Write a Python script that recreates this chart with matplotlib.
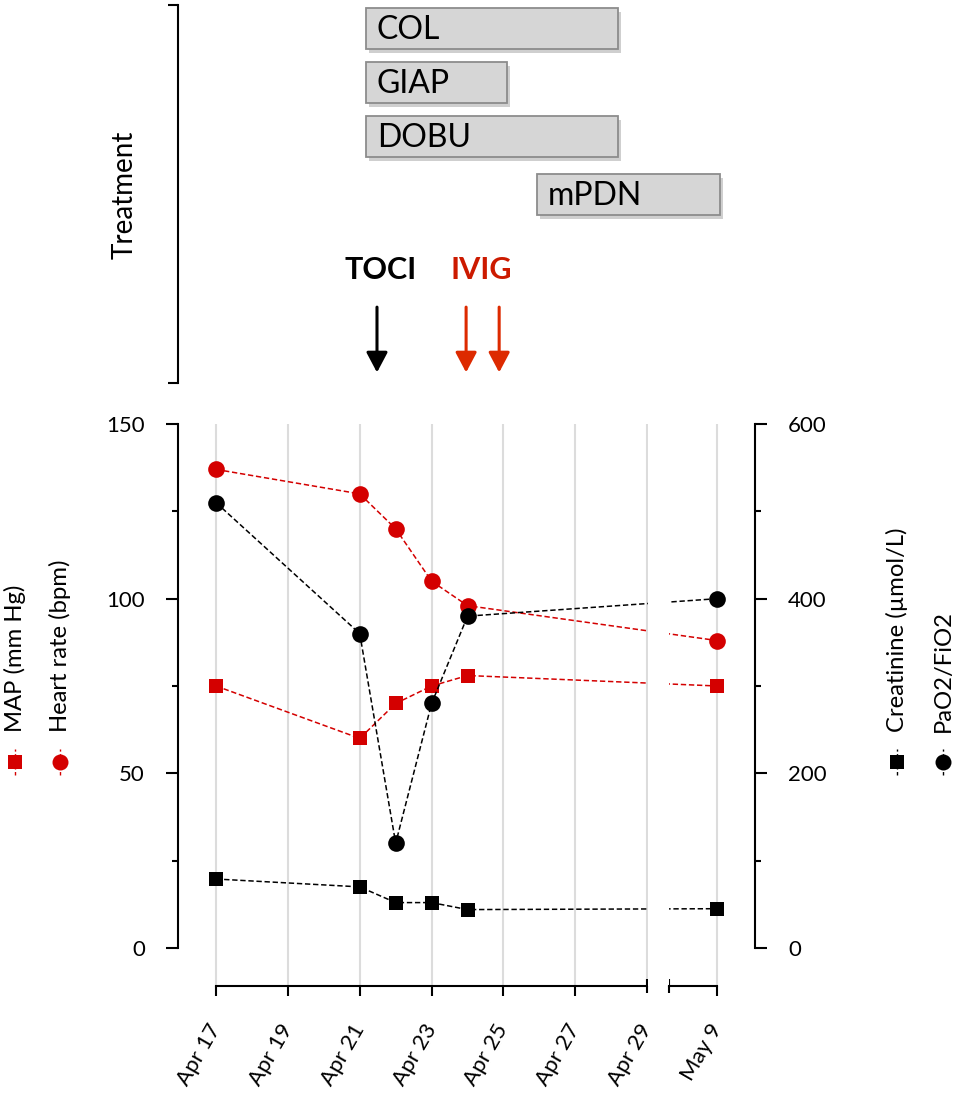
import matplotlib
matplotlib.use("Agg")
import matplotlib.pyplot as plt
from matplotlib.lines import Line2D
import matplotlib.patheffects as pe
from datetime import date

plt.rcParams['font.family'] = ['Lato', 'DejaVu Sans']

# ---------------- data ----------------
dates = ['2020-04-17', '2020-04-21', '2020-04-22', '2020-04-23', '2020-04-24', '2020-05-09']
heart_rate = [137, 130, 120, 105, 98, 88]
map_mmhg = [75, 60, 70, 75, 78, 75]
pao2_fio2 = [510, 360, 120, 280, 380, 400]
creatinine = [79, 70, 52, 52, 44, 45]

tick_dates = ['2020-04-17', '2020-04-19', '2020-04-21', '2020-04-23', '2020-04-25',
              '2020-04-27', '2020-04-29', '2020-05-09']
tick_labels = ['Apr 17', 'Apr 19', 'Apr 21', 'Apr 23', 'Apr 25', 'Apr 27', 'Apr 29', 'May 9']

treatments = ['COL', 'GIAP', 'DOBU', 'mPDN']
treat_start = [4.18, 4.18, 4.18, 8.94]   # days after Apr 17 (axis position)
treat_end = [11.19, 8.10, 11.19, 14.03]
treat_row = [0, 1, 2, 3.08]

toci_days = [4.48]
ivig_days = [6.96, 7.88]

# ---------------- axis mapping (broken date axis) ----------------
D0 = date(2020, 4, 17)
BREAK_END = 12          # Apr 29
GAP_START, GAP_END = 12.0, 12.62
MAY9_POS = 13.95


def pos(d):
    dd = date.fromisoformat(d)
    n = (dd - D0).days
    if n <= BREAK_END:
        return float(n)
    return MAY9_POS - (date(2020, 5, 9) - dd).days


xs = [pos(d) for d in dates]
xt = [pos(d) for d in tick_dates]

W, H = 957, 1095
fig = plt.figure(figsize=(W / 100, H / 100), dpi=100)


def fx(px):
    return px / W


def fy(py):
    return 1 - py / H


XLIM = (-1.058, 15.0)
RED = '#d40000'
ARROW_RED = '#dd2a00'

# ---------------- main axes ----------------
ax = fig.add_axes([fx(178), fy(986), fx(755) - fx(178), fy(424) - fy(986)])
ax.set_xlim(*XLIM)
ax.set_ylim(-10.88, 150)
axr = ax.twinx()
axr.set_ylim(-43.5, 600)

for a in (ax, axr):
    a.spines['top'].set_visible(False)
ax.spines['right'].set_visible(False)
axr.spines['left'].set_visible(False)
axr.spines['bottom'].set_visible(False)
ax.spines['left'].set_bounds(0, 150)
axr.spines['right'].set_bounds(0, 600)
ax.spines['bottom'].set_bounds(0, BREAK_END)
for sp in ('left', 'bottom'):
    ax.spines[sp].set_linewidth(1.5)
axr.spines['right'].set_linewidth(1.5)

ax.set_yticks([0, 50, 100, 150])
ax.set_yticks([25, 75, 125], minor=True)
axr.set_yticks([0, 200, 400, 600])
axr.set_yticks([100, 300, 500], minor=True)
ax.tick_params(axis='y', which='major', length=8.4, width=1.5, labelsize=16, pad=15.5)
ax.tick_params(axis='y', which='minor', length=4.1, width=1.5)
axr.tick_params(axis='y', which='major', length=8.4, width=1.5, labelsize=16, pad=15.5)
axr.tick_params(axis='y', which='minor', length=4.1, width=1.5)

ax.set_xticks(xt)
ax.set_xticklabels(tick_labels, rotation=60, ha='right', va='center',
                   rotation_mode='anchor')
ax.tick_params(axis='x', which='major', length=7.2, width=1.5, labelsize=16, pad=21)
ax.set_xticks([GAP_END], minor=True)
ax.tick_params(axis='x', which='minor', direction='inout', length=10, width=1.5)
ax.grid(axis='x', which='major', color='#dcdcdc', linewidth=1.5, zorder=0)
ax.set_axisbelow(True)
# break marker at Apr 29 crosses the axis line
_t = ax.xaxis.get_major_ticks()[6]
_t.tick1line.set_marker('|')
_t.tick1line.set_markersize(10)

# second segment of the broken x axis
axm = fig.add_axes(ax.get_position(), frameon=True)
axm.patch.set_visible(False)
axm.set_xlim(*XLIM)
for sp in ('top', 'left', 'right'):
    axm.spines[sp].set_visible(False)
axm.spines['bottom'].set_bounds(GAP_END, MAY9_POS)
axm.spines['bottom'].set_linewidth(1.5)
axm.set_xticks([])
axm.set_yticks([])

dash = (0, (3.5, 1.8))
ax.plot(xs, heart_rate, linestyle=dash, color=RED, lw=1.1, marker='o', ms=12,
        markeredgewidth=0, zorder=3)
ax.plot(xs, map_mmhg, linestyle=dash, color=RED, lw=1.1, marker='s', ms=10.5,
        markeredgewidth=0, zorder=3)
axr.plot(xs, pao2_fio2, linestyle=dash, color='black', lw=1.1, marker='o', ms=12,
         markeredgewidth=0, zorder=3)
axr.plot(xs, creatinine, linestyle=dash, color='black', lw=1.1, marker='s', ms=10.5,
         markeredgewidth=0, zorder=3)
# gap in the lines at the axis break
axr.axvspan(GAP_START + 0.02, GAP_END - 0.02, color='white', zorder=4, lw=0)

# ---------------- axis keys (legend-style labels) ----------------
def key(xpx, ypx, marker, color, ms, label, text_bottom_px=732):
    fig.add_artist(Line2D([fx(xpx), fx(xpx)], [fy(ypx + 13), fy(ypx - 13)],
                          transform=fig.transFigure, color=color, lw=1.0,
                          linestyle=(0, (2.5, 1.8))))
    fig.add_artist(Line2D([fx(xpx)], [fy(ypx)], transform=fig.transFigure,
                          marker=marker, color=color, ms=ms, markeredgewidth=0,
                          linestyle='none'))
    fig.text(fx(xpx), fy(text_bottom_px), label, rotation=90, ha='center',
             va='bottom', fontsize=17.2)


key(15, 762, 's', RED, 10, 'MAP (mm Hg)')
key(60, 762, 'o', RED, 11.5, 'Heart rate (bpm)')
key(897, 762, 's', 'black', 10, 'Creatinine (µmol/L)')
key(943, 762, 'o', 'black', 11.5, 'PaO2/FiO2')

# ---------------- treatment panel ----------------
axt = fig.add_axes([fx(178), fy(383), fx(755) - fx(178), fy(5) - fy(383)])
axt.set_xlim(*XLIM)
axt.set_ylim(6.565, -0.435)
axt.patch.set_visible(False)
for sp in ('top', 'right', 'bottom'):
    axt.spines[sp].set_visible(False)
axt.spines['left'].set_linewidth(1.5)
axt.set_xticks([])
axt.set_yticks([6.565, -0.435])
axt.set_yticklabels([])
axt.tick_params(axis='y', length=7.2, width=1.5)

widths = [e - s for s, e in zip(treat_start, treat_end)]
bars = axt.barh(treat_row, widths, left=treat_start, height=0.76, color='#d6d6d6',
                edgecolor='#8c8c8c', linewidth=1.3)
for b in bars:
    b.set_path_effects([pe.SimplePatchShadow(offset=(2, -3), alpha=0.25), pe.Normal()])
for name, s, r in zip(treatments, treat_start, treat_row):
    axt.text(s + 0.3, r + 0.02, name, va='center', ha='left', fontsize=23, color='black')

axt.text(4.57, 4.47, 'TOCI', ha='center', va='center', fontsize=22,
         fontweight='bold', color='black')
axt.text(7.38, 4.47, 'IVIG', ha='center', va='center', fontsize=22,
         fontweight='bold', color='#cc1a00')
for d, c in [(d, 'black') for d in toci_days] + [(d, ARROW_RED) for d in ivig_days]:
    axt.annotate('', xy=(d, 6.37), xytext=(d, 5.16),
                 arrowprops=dict(arrowstyle='-|>,head_length=0.34,head_width=0.18',
                                 lw=2.2, color=c, mutation_scale=36,
                                 shrinkA=0, shrinkB=0))

fig.text(fx(125), fy(195), 'Treatment', rotation=90, ha='center', va='center',
         fontsize=20)

fig.savefig('out.png', dpi=100)
